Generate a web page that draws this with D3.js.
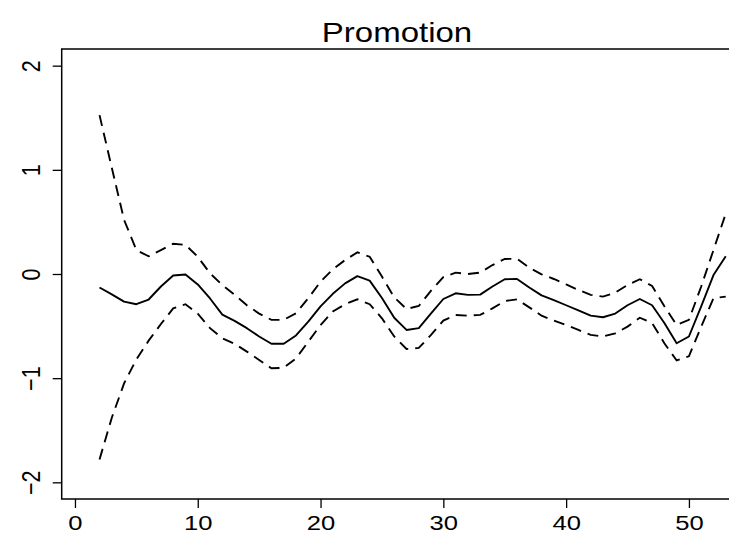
<!DOCTYPE html>
<html>
<head>
<meta charset="utf-8">
<script src="https://cdn.jsdelivr.net/npm/d3@7"></script>
<style>
  body { margin: 0; background: #fff; }
  text { font-family: "Liberation Sans", Arial, Helvetica, sans-serif; fill: #000; }
</style>
</head>
<body>
<svg id="chart"></svg>
<script>
// week index
const weeks = [2, 3, 4, 5, 6, 7, 8, 9, 10, 11, 12, 13, 14, 15, 16, 17, 18, 19, 20, 21,
               22, 23, 24, 25, 26, 27, 28, 29, 30, 31, 32, 33, 34, 35, 36, 37, 38, 39, 40, 41,
               42, 43, 44, 45, 46, 47, 48, 49, 50, 51, 52, 53];

// fitted effect
const fitted = [-0.13, -0.195, -0.265, -0.29, -0.245, -0.12, -0.015, -0.005, -0.10, -0.235,
                -0.39, -0.45, -0.52, -0.60, -0.67, -0.67, -0.59, -0.457, -0.31, -0.19,
                -0.09, -0.02, -0.064, -0.23, -0.42, -0.537, -0.52, -0.377, -0.24, -0.185,
                -0.20, -0.198, -0.12, -0.05, -0.048, -0.13, -0.205, -0.25, -0.30, -0.35,
                -0.40, -0.415, -0.38, -0.30, -0.24, -0.30, -0.47, -0.665, -0.60, -0.31,
                -0.01, 0.17];

// upper band
const upper = [1.525, 1.02, 0.52, 0.23, 0.17, 0.23, 0.29, 0.28, 0.166, 0.006,
               -0.105, -0.20, -0.30, -0.38, -0.44, -0.44, -0.377, -0.233, -0.074, 0.045,
               0.134, 0.208, 0.166, -0.025, -0.224, -0.336, -0.307, -0.16, -0.03, 0.013,
               0.0, 0.013, 0.086, 0.144, 0.147, 0.06, -0.003, -0.048, -0.1, -0.153,
               -0.2, -0.217, -0.179, -0.105, -0.05, -0.115, -0.31, -0.49, -0.44, -0.12,
               0.23, 0.58];

// lower band
const lower = [-1.78, -1.38, -1.05, -0.82, -0.64, -0.48, -0.33, -0.29, -0.38, -0.52,
               -0.617, -0.67, -0.745, -0.825, -0.905, -0.9, -0.81, -0.65, -0.49, -0.36,
               -0.29, -0.243, -0.29, -0.425, -0.60, -0.72, -0.71, -0.585, -0.447, -0.393,
               -0.40, -0.393, -0.33, -0.26, -0.243, -0.32, -0.40, -0.447, -0.49, -0.537,
               -0.585, -0.60, -0.57, -0.505, -0.42, -0.47, -0.665, -0.83, -0.79, -0.505,
               -0.233, -0.217];

const xTicks = [0, 10, 20, 30, 40, 50];
const yTicks = [-2, -1, 0, 1, 2];
const title = "Promotion";

const W = 729, H = 537;
const plot = { left: 61.7, right: 751.3, top: 49, bottom: 499 };
const stretch = 1.22; // the picture is wider than it is tall, text included

const svg = d3.select("#chart").attr("width", W).attr("height", H);

// R style: 4% padding around the limits
const x = d3.scaleLinear().domain([-1.08, 55.08]).range([plot.left, plot.right]);
const y = d3.scaleLinear().domain([-2.16, 2.16]).range([plot.bottom, plot.top]);

svg.append("defs").append("clipPath").attr("id", "clip")
  .append("rect")
  .attr("x", plot.left).attr("y", plot.top)
  .attr("width", plot.right - plot.left).attr("height", plot.bottom - plot.top);

// box
svg.append("rect")
  .attr("x", plot.left).attr("y", plot.top)
  .attr("width", plot.right - plot.left).attr("height", plot.bottom - plot.top)
  .attr("fill", "none").attr("stroke", "#000").attr("stroke-width", 1.5);

// axes
const xAxis = svg.append("g")
  .attr("transform", `translate(0, ${plot.bottom})`)
  .call(d3.axisBottom(x).tickValues(xTicks).tickSize(9).tickSizeOuter(0));
xAxis.select(".domain").remove();
xAxis.selectAll("line").attr("stroke-width", 1.3);
xAxis.selectAll("text")
  .attr("y", 31).attr("dy", null)
  .attr("transform", `scale(${stretch},1)`)
  .style("font-size", "21px");

const yAxis = svg.append("g")
  .attr("transform", `translate(${plot.left}, 0)`)
  .call(d3.axisLeft(y).tickValues(yTicks).tickSize(9).tickSizeOuter(0));
yAxis.select(".domain").remove();
yAxis.selectAll("line").attr("stroke-width", 1.3);
yAxis.selectAll("text")
  .attr("x", 0).attr("dy", null).attr("y", -18)
  .attr("transform", `scale(${stretch},1) rotate(-90)`)
  .attr("text-anchor", "middle")
  .style("font-size", "21.5px")
  .text(d => d < 0 ? "\u2212" + Math.abs(d) : d);

// lines
const rows = weeks.map((w, i) => ({ w, fit: fitted[i], up: upper[i], lo: lower[i] }));
const g = svg.append("g").attr("clip-path", "url(#clip)");

const mk = key => d3.line().x(d => x(d.w)).y(d => y(d[key]));

g.append("path").datum(rows)
  .attr("d", mk("fit"))
  .attr("fill", "none").attr("stroke", "#000").attr("stroke-width", 1.9)
  .attr("stroke-linejoin", "round");

["up", "lo"].forEach(k => {
  g.append("path").datum(rows)
    .attr("d", mk(k))
    .attr("fill", "none").attr("stroke", "#000").attr("stroke-width", 1.9)
    .attr("stroke-dasharray", "11,7");
});

// title
svg.append("text")
  .attr("transform", `translate(397, 42) scale(1.2,1)`)
  .attr("text-anchor", "middle")
  .style("font-size", "27.5px")
  .text(title);
</script>
</body>
</html>
